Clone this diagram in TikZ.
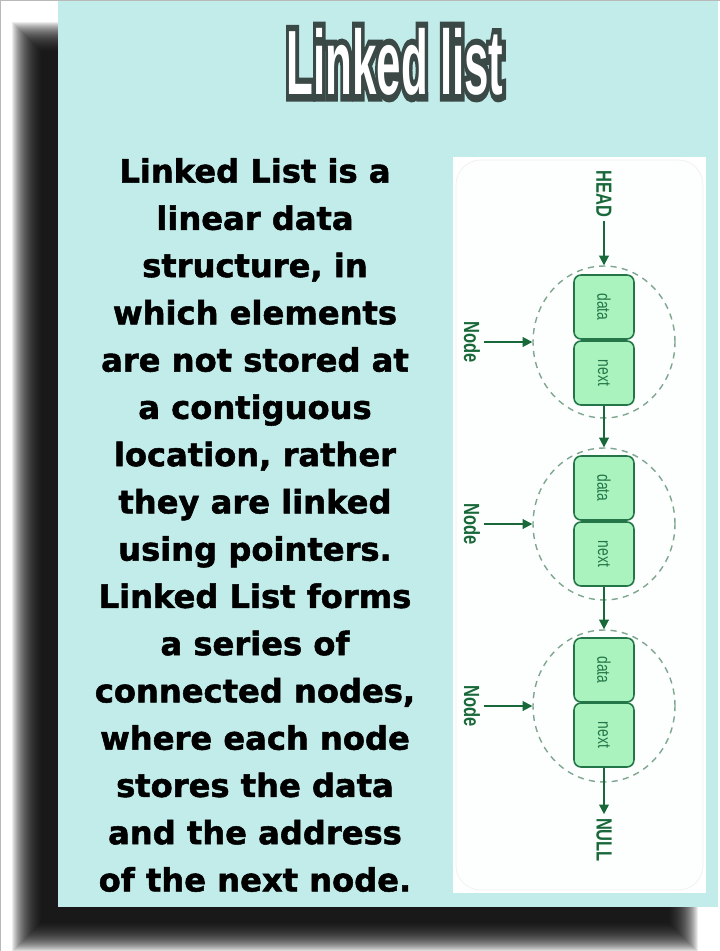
\documentclass[tikz,border=0pt]{standalone}
\usepackage{fontspec}
\usetikzlibrary{shapes.geometric}
\usetikzlibrary{arrows.meta}
\newfontfamily\bodyfont{DejaVu Sans}[BoldFeatures={FakeBold=1.6}]
\newfontfamily\labelfont{Liberation Sans}
\newfontfamily\titlefont{Liberation Sans Bold}
\newfontfamily\titleedge{Liberation Sans Bold}[FakeBold=15]
\definecolor{panel}{RGB}{193,236,234}
\definecolor{cardbg}{RGB}{252,255,253}
\definecolor{boxfill}{RGB}{170,243,190}
\definecolor{boxline}{RGB}{36,118,72}
\definecolor{arrowgreen}{RGB}{24,104,58}
\definecolor{ringgray}{RGB}{128,166,144}
\definecolor{titleline}{RGB}{58,72,70}
\newcommand{\condtxt}[1]{\scalebox{0.75}[1]{#1}}

\begin{document}
\begin{tikzpicture}[x=0.02cm,y=-0.02cm,
    cell/.style={draw=boxline, fill=boxfill, line width=0.9pt, rounded corners=4pt, rotate=-90, minimum width=1.28cm, minimum height=1.2cm, inner sep=0pt, text=boxline, font=\labelfont\fontsize{10.5}{12}\selectfont},
    ring/.style={draw=ringgray, ellipse, dash pattern=on 3.5pt off 3pt, line width=0.8pt, minimum width=2.84cm, minimum height=3.04cm, inner sep=0pt},
    tag/.style={rotate=-90, text=arrowgreen, inner sep=2pt, font=\labelfont\bfseries\fontsize{12.5}{14}\selectfont},
    link/.style={-{Triangle[length=5.5pt,width=5.5pt]}, line width=1pt, draw=arrowgreen},
    titletxt/.style={inner sep=0pt, font=\fontsize{52}{52}\selectfont}]
    \useasboundingbox (0,0) rectangle (720,951);

    % shadow behind the card
    \foreach \i in {0,...,29}
        \fill[black, opacity=0.075] (12+\i,22+\i) rectangle (698-\i,952-\i);
    \fill[panel] (58,0) rectangle (718,907);
    \draw[gray!55, line width=0.8pt] (0.4,951) -- (0.4,0.4) -- (720,0.4);

    % white card on the right
    \fill[white] (453,157) rectangle (706,893);
    \draw[gray!12, fill=cardbg, rounded corners=14pt] (456,160) rectangle (703,890);

    % title with outline
    \node[titletxt, text=titleline] (edge) at (395,62) {\titleedge\scalebox{0.48}[1]{Linked list}};
    \node[titletxt, text=white] (title) at (395,62) {\titlefont\scalebox{0.48}[1]{Linked list}};

    \node[font=\bodyfont\bfseries\fontsize{18.3}{26.9}\selectfont, align=center, inner sep=0pt] (blurb) at (255,525) {Linked List is a\\ linear data\\ structure, in\\ which elements\\ are not stored at\\ a contiguous\\ location, rather\\ they are linked\\ using pointers.\\ Linked List forms\\ a series of\\ connected nodes,\\ where each node\\ stores the data\\ and the address\\ of the next node.};

    \node[tag] (head) at (604,194) {\condtxt{HEAD}};

    \node[ring] (ring1) at (604,342) {};
    \node[cell] (data1) at (604,307) {\condtxt{data}};
    \node[cell] (next1) at (604,373) {\condtxt{next}};
    \node[tag] (lab1) at (472,342) {\condtxt{Node}};

    \node[ring] (ring2) at (604,524) {};
    \node[cell] (data2) at (604,488) {\condtxt{data}};
    \node[cell] (next2) at (604,554) {\condtxt{next}};
    \node[tag] (lab2) at (472,524) {\condtxt{Node}};

    \node[ring] (ring3) at (604,706) {};
    \node[cell] (data3) at (604,670) {\condtxt{data}};
    \node[cell] (next3) at (604,735) {\condtxt{next}};
    \node[tag] (lab3) at (472,706) {\condtxt{Node}};

    \node[tag] (null) at (604,840) {\condtxt{NULL}};

    \draw[link] (head) -- (ring1);
    \draw[link] (next1) -- (ring2);
    \draw[link] (next2) -- (ring3);
    \draw[link] (next3) -- (null);
    \draw[link] (lab1) -- (ring1);
    \draw[link] (lab2) -- (ring2);
    \draw[link] (lab3) -- (ring3);
\end{tikzpicture}
\end{document}
